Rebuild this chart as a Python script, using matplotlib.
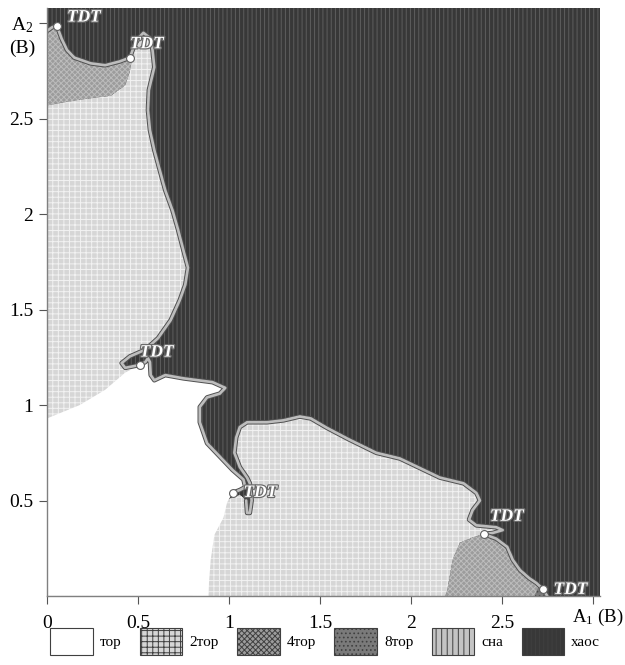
import matplotlib
matplotlib.use("Agg")
import matplotlib.pyplot as plt
from matplotlib.patches import Rectangle, Patch
import matplotlib.patheffects as pe

plt.rcParams['font.family'] = ['Liberation Serif', 'DejaVu Serif']
plt.rcParams['mathtext.fontset'] = 'custom'
plt.rcParams['mathtext.rm'] = 'Liberation Serif'
plt.rcParams['mathtext.it'] = 'Liberation Serif:italic'
plt.rcParams['hatch.linewidth'] = 0.7

# ---- regime regions on the (A1, A2) plane, in volts ----
tor_A1 = [0, 0, 0.18, 0.32, 0.43, 0.51, 0.54, 0.555, 0.566, 0.57, 0.59, 0.65, 0.75,
          0.91, 0.98, 0.95, 0.88, 0.84, 0.84, 0.88, 0.95, 1.02, 1.08, 1.09, 1.06, 1.02,
          0.99, 0.97, 0.92, 0.90, 0.885]
tor_A2 = [0, 0.93, 1.00, 1.08, 1.17, 1.21, 1.225, 1.245, 1.225, 1.157, 1.13, 1.157, 1.14,
          1.12, 1.09, 1.06, 1.04, 0.99, 0.91, 0.80, 0.73, 0.66, 0.61, 0.57, 0.555, 0.54,
          0.49, 0.41, 0.32, 0.19, 0.0]

tor2_up_A1 = [0, 0, 0.18, 0.35, 0.43, 0.456, 0.467, 0.456, 0.48, 0.51, 0.53, 0.57, 0.58,
              0.59, 0.56, 0.555, 0.566, 0.59, 0.62, 0.65, 0.69, 0.72, 0.75, 0.775, 0.76,
              0.73, 0.68, 0.61, 0.54, 0.456, 0.41, 0.43, 0.51, 0.40, 0.0]
tor2_up_A2 = [0.90, 2.57, 2.60, 2.62, 2.675, 2.75, 2.81, 2.82, 2.885, 2.93, 2.95, 2.92, 2.86,
              2.77, 2.65, 2.545, 2.44, 2.335, 2.23, 2.125, 2.02, 1.92, 1.81, 1.72, 1.63,
              1.55, 1.445, 1.35, 1.29, 1.255, 1.22, 1.195, 1.21, 1.10, 0.90]

tor4_up_A1 = [0, 0, 0.03, 0.055, 0.08, 0.11, 0.15, 0.24, 0.32, 0.40, 0.456, 0.467, 0.456,
              0.43, 0.35, 0.18]
tor4_up_A2 = [2.57, 2.96, 2.98, 2.985, 2.92, 2.86, 2.82, 2.79, 2.78, 2.80, 2.82, 2.81, 2.75,
              2.675, 2.62, 2.60]

tor2_lo_A1 = [0.80, 2.19, 2.20, 2.23, 2.27, 2.35, 2.40, 2.45, 2.505, 2.47, 2.36, 2.32, 2.34,
              2.38, 2.36, 2.29, 2.16, 1.94, 1.81, 1.66, 1.54, 1.45, 1.39, 1.30, 1.21, 1.10,
              1.06, 1.04, 1.03, 1.06, 1.10, 1.115, 1.125, 1.115, 1.10, 1.095, 1.06, 0.98,
              0.80]
tor2_lo_A2 = [0.0, 0.0, 0.03, 0.19, 0.28, 0.31, 0.325, 0.33, 0.345, 0.36, 0.37, 0.40, 0.45,
              0.50, 0.54, 0.59, 0.62, 0.72, 0.75, 0.82, 0.88, 0.93, 0.94, 0.92, 0.91, 0.91,
              0.885, 0.83, 0.75, 0.675, 0.62, 0.59, 0.50, 0.435, 0.435, 0.50, 0.53, 0.50,
              0.30]

tor4_lo_A1 = [2.19, 2.20, 2.23, 2.27, 2.35, 2.40, 2.47, 2.53, 2.56, 2.60, 2.65, 2.69, 2.725,
              2.75]
tor4_lo_A2 = [0.0, 0.03, 0.19, 0.28, 0.31, 0.325, 0.30, 0.257, 0.19, 0.136, 0.094, 0.068,
              0.037, 0.0]

tor8_A1 = [2.68, 2.70, 2.725, 2.75]
tor8_A2 = [0.0, 0.045, 0.037, 0.0]

# torus-doubling terminal points
tdt_A1 = [0.055, 0.456, 0.51, 1.02, 2.40, 2.725]
tdt_A2 = [2.985, 2.82, 1.21, 0.54, 0.325, 0.037]
tdt_lbl_dx = [0.055, 0.0, 0.0, 0.06, 0.035, 0.06]
tdt_lbl_dy = [0.045, 0.07, 0.065, 0.0, 0.09, -0.005]

legend_names = ['тор', '2тор', '4тор', '8тор', 'сна', 'хаос']
x_ticks = [0, 0.5, 1, 1.5, 2, 2.5]
y_ticks = [0.5, 1, 1.5, 2, 2.5, 3]

# fill styles: (face, hatch, hatch colour)
styles = {
    'тор':  ('#ffffff', None, '#ffffff'),
    '2тор': ('#d6d6d6', '+++', '#f2f2f2'),
    '4тор': ('#9c9c9c', 'xxxxxx', '#bcbcbc'),
    '8тор': ('#7a7a7a', '....', '#4a4a4a'),
    'сна':  ('#c4c4c4', '|||', '#ececec'),
    'хаос': ('#383838', '||||', '#5e5e5e'),
}

fig = plt.figure(figsize=(6.25, 6.65), dpi=100)
ax = fig.add_axes([0.0752, 0.1038, 0.8848, 0.8842])
ax.set_xlim(0, 3.04)
ax.set_ylim(0, 3.08)


def region(xs, ys, key, z):
    fc, h, hc = styles[key]
    ax.fill(xs, ys, facecolor=fc, hatch=h, edgecolor=hc, linewidth=0, zorder=z)


# chaotic background
fc, h, hc = styles['хаос']
ax.add_patch(Rectangle((0, 0), 1, 1, transform=ax.transAxes, facecolor=fc, hatch=h,
                       edgecolor=hc, linewidth=0, zorder=0))

region(tor2_up_A1, tor2_up_A2, '2тор', 1)
region(tor4_up_A1, tor4_up_A2, '4тор', 2)
region(tor2_lo_A1, tor2_lo_A2, '2тор', 1)
region(tor4_lo_A1, tor4_lo_A2, '4тор', 2)
region(tor8_A1, tor8_A2, '8тор', 3)
region(tor_A1, tor_A2, 'тор', 3)

# light bands along the border of the chaotic zone
band_fx = [pe.Stroke(linewidth=3.3, foreground='#505050'), pe.Normal()]


def band(xs, ys):
    ax.plot(xs, ys, color='#bdbdbd', lw=1.9, solid_capstyle='round',
            solid_joinstyle='round', path_effects=band_fx, zorder=4)


band(tor4_up_A1[1:11], tor4_up_A2[1:11])
band(tor2_up_A1[7:33], tor2_up_A2[7:33])
band(tor_A1[5:26], tor_A2[5:26])
band(tor2_lo_A1[6:36], tor2_lo_A2[6:36])
band(tor4_lo_A1[5:], tor4_lo_A2[5:])

# axis lines
ax.plot([0, 0], [0, 3.08], color='#808080', lw=1.0, zorder=5, clip_on=False)
ax.plot([0, 3.04], [0, 0], color='#808080', lw=1.0, zorder=5, clip_on=False)

ax.scatter(tdt_A1, tdt_A2, s=32, facecolor='white', edgecolor='#606060', linewidths=0.8,
           zorder=6)
for xa, ya, dx, dy in zip(tdt_A1, tdt_A2, tdt_lbl_dx, tdt_lbl_dy):
    ax.text(xa + dx, ya + dy, 'TDT', color='white', fontsize=12.5, fontweight='bold',
            fontstyle='italic', ha='left', va='center', zorder=7,
            path_effects=[pe.withStroke(linewidth=1.8, foreground='#6a6a6a')])

for s in ['top', 'right', 'left', 'bottom']:
    ax.spines[s].set_visible(False)

ax.set_xticks(x_ticks + [3])
ax.set_xticklabels(['0', '0.5', '1', '1.5', '2', '2.5', ''])
ax.set_yticks(y_ticks)
ax.set_yticklabels(['0.5', '1', '1.5', '2', '2.5', 'A$_2$'])
ax.tick_params(axis='both', direction='out', length=6, width=0.8, color='#555555',
               labelsize=14, pad=4)
ax.tick_params(axis='x', pad=8)
ax.text(3.03, -0.11, 'A$_1$ (B)', fontsize=13.5, ha='center', va='center', clip_on=False)
ax.text(-0.135, 2.87, '(B)', fontsize=14, ha='center', va='center', clip_on=False)

handles = []
for name in legend_names:
    fc, h, hc = styles[name]
    handles.append(Patch(facecolor=fc, hatch=h, edgecolor='#404040', linewidth=0.8,
                         label=name))
fig.legend(handles=handles, loc='center', bbox_to_anchor=(0.52, 0.035), ncol=6,
           frameon=False, fontsize=11, handlelength=2.8, handleheight=2.3,
           handletextpad=0.45, columnspacing=1.2)

fig.savefig('out.png', dpi=100)
